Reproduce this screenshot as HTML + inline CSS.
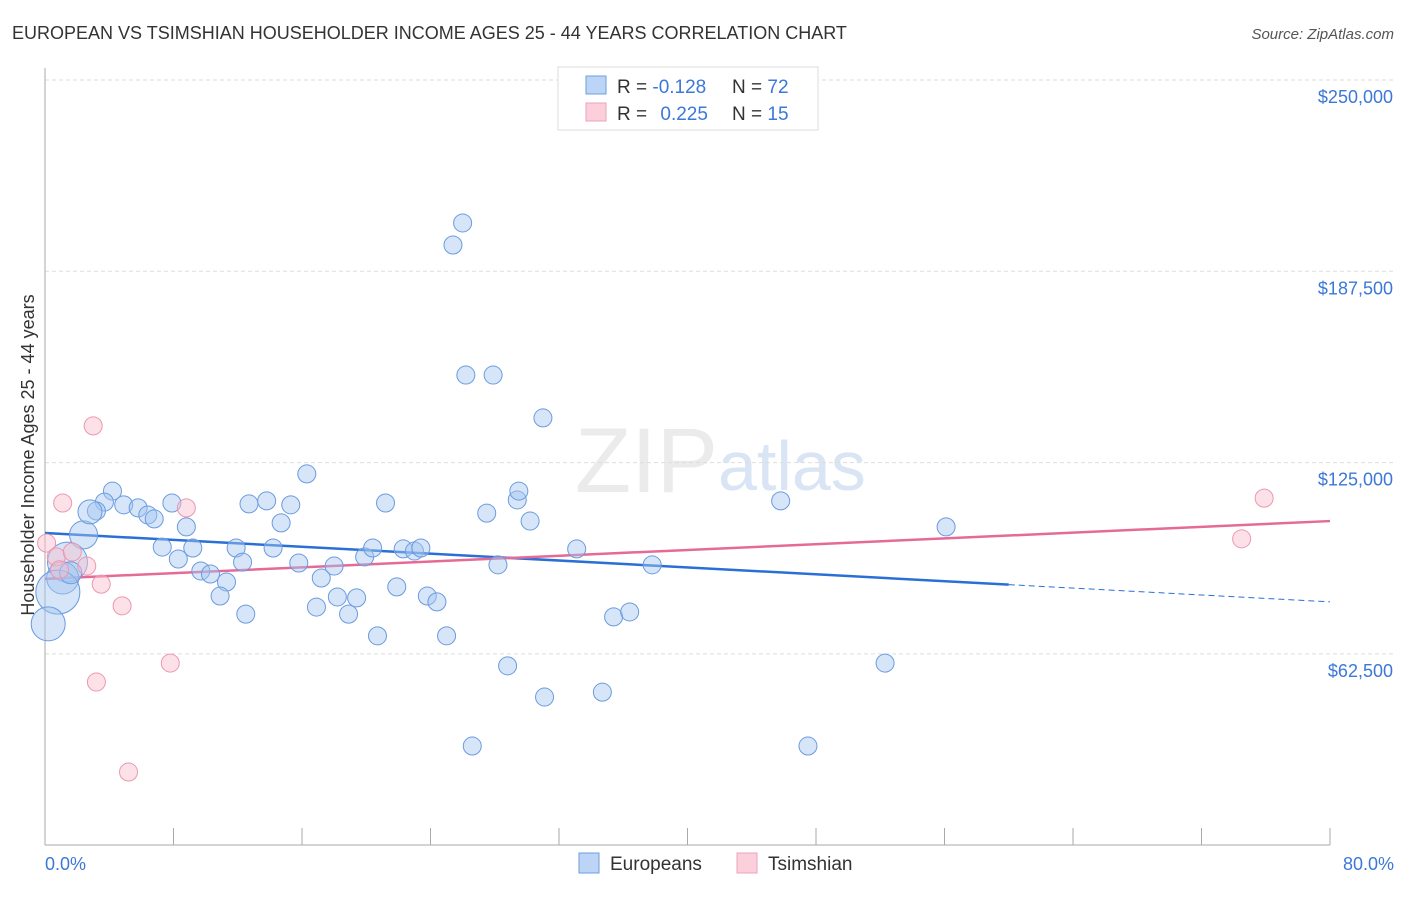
<!DOCTYPE html>
<html><head><meta charset="utf-8"><style>
body{margin:0;background:#fff;font-family:"Liberation Sans",sans-serif}
svg text{font-family:"Liberation Sans",sans-serif}
</style></head><body>
<svg id="chart" width="1406" height="892">
<text x="12" y="39" font-size="18" fill="#333">EUROPEAN VS TSIMSHIAN HOUSEHOLDER INCOME AGES 25 - 44 YEARS CORRELATION CHART</text>
<text x="1394" y="39" font-size="15" fill="#555" font-style="italic" text-anchor="end">Source: ZipAtlas.com</text>
<text x="718" y="492" font-size="92" fill="#ebebeb" font-family="Liberation Serif" text-anchor="end">ZIP</text>
<text x="718" y="490" font-size="70" fill="#d9e4f4">atlas</text>
<g id="grid"></g><g id="axes"></g><g id="lines"></g><g id="pts"></g>
<text transform="translate(34,455) rotate(-90)" font-size="18" fill="#333" text-anchor="middle">Householder Income Ages 25 - 44 years</text>
<text x="45" y="870" font-size="18" fill="#3b78d8">0.0%</text>
<text x="1394" y="870" font-size="18" fill="#3b78d8" text-anchor="end">80.0%</text>
<g>
<rect x="558" y="67" width="260" height="63" fill="#fff" stroke="#ddd"/>
<rect x="586" y="76" width="20" height="18" fill="#bcd4f5" stroke="#6d9ee0"/>
<rect x="586" y="103" width="20" height="18" fill="#fbd0dc" stroke="#eea2b8"/>
<text x="617" y="93" font-size="19" fill="#333">R = <tspan fill="#3b78d8">-0.128</tspan></text>
<text x="732" y="93" font-size="19" fill="#333">N = <tspan fill="#3b78d8">72</tspan></text>
<text x="617" y="120" font-size="19" fill="#333">R = <tspan fill="#3b78d8" dx="8">0.225</tspan></text>
<text x="732" y="120" font-size="19" fill="#333">N = <tspan fill="#3b78d8">15</tspan></text>
</g>
<g>
<rect x="579" y="853" width="20" height="20" fill="#bcd4f5" stroke="#6d9ee0"/>
<text x="610" y="870" font-size="19" fill="#333">Europeans</text>
<rect x="737" y="853" width="20" height="20" fill="#fbd0dc" stroke="#eea2b8"/>
<text x="768" y="870" font-size="19" fill="#333">Tsimshian</text>
</g>
</svg>
<script>
const yTicks=[62500,125000,187500,250000];
const yTickLabels=["$62,500","$125,000","$187,500","$250,000"];
const xTicks=[0,8,16,24,32,40,48,56,64,72,80];
const euroX=[26.0,25.4,26.2,27.9,31.0,16.3,4.2,3.7,3.2,4.9,5.8,6.4,6.8,7.9,8.8,7.3,9.2,8.3,9.7,10.3,11.3,10.9,11.9,12.3,12.7,13.8,14.7,15.3,14.2,15.8,12.5,16.9,17.2,18.0,18.2,18.9,19.4,19.9,20.4,20.7,21.2,21.9,22.3,23.0,23.4,23.8,24.4,25.0,27.5,28.2,29.4,29.5,30.2,28.8,31.1,26.6,33.1,34.7,35.4,36.4,37.8,45.8,47.5,52.3,56.1,2.4,1.4,1.1,0.8,0.2,2.8,1.6];
const euroY=[203300,196100,153600,153600,139600,121300,115700,112100,109200,111200,110200,107900,106600,111800,104000,97400,97100,93500,89600,88600,86000,81400,97100,92500,111500,112500,105300,111200,97100,92200,75500,77800,87300,91200,81100,75500,80800,94200,97100,68400,111800,84400,96800,96100,97100,81400,79500,68400,108500,91600,112800,115700,105900,58600,48400,32400,96800,50000,74600,76200,91600,112500,32400,59500,104000,101400,92500,87300,82700,72300,108900,89000];
const euroR=[9,9,9,9,9,9,9,9,9,9,9,9,9,9,9,9,9,9,9,9,9,9,9,9,9,9,9,9,9,9,9,9,9,9,9,9,9,9,9,9,9,9,9,9,9,9,9,9,9,9,9,9,9,9,9,9,9,9,9,9,9,9,9,9,9,14,20,16,22,17,12,11];
const tsimX=[3.0,1.1,0.1,0.7,1.7,2.6,3.5,4.8,8.8,7.8,3.2,5.2,75.9,74.5,0.9];
const tsimY=[137000,111800,98700,94200,95800,91200,85300,78200,110200,59500,53300,23900,113400,100100,90000];
const euroTrend=[102000,79500], tsimTrend=[87000,105900];
const NS="http://www.w3.org/2000/svg";
const X=p=>45+p/80*1285, Y=v=>80+(250000-v)/62500*191.3;
function mk(t,a,p){const e=document.createElementNS(NS,t);for(const k in a)e.setAttribute(k,a[k]);document.getElementById(p).appendChild(e);return e;}
yTicks.forEach((v,i)=>{
 const l=mk('line',{x1:45,x2:1394,y1:Y(v),y2:Y(v),stroke:'#ddd','stroke-dasharray':'4,3'},'grid');
 
 
 const t=mk('text',{x:1393,y:Y(v)+23,'text-anchor':'end','font-size':18,fill:'#3b78d8'},'grid');
 t.textContent=yTickLabels[i];
 
 
});
mk('line',{x1:45,x2:45,y1:68,y2:845,stroke:'#aaa'},'axes');
mk('line',{x1:45,x2:1330,y1:845,y2:845,stroke:'#aaa'},'axes');
xTicks.forEach(p=>{const t=mk('line',{x1:X(p),x2:X(p),y1:828,y2:845,stroke:'#aaa'},'axes');
 
 });
euroX.forEach((p,i)=>{const c=mk('circle',{cx:X(p),cy:Y(euroY[i]),r:euroR[i],fill:'rgba(165,198,240,0.45)',stroke:'#6b9be0','stroke-width':1},'pts');
 
 });
tsimX.forEach((p,i)=>{const c=mk('circle',{cx:X(p),cy:Y(tsimY[i]),r:9,fill:'rgba(248,190,205,0.45)',stroke:'#ec97b0','stroke-width':1},'pts');
 
 });
const eAt=p=>euroTrend[0]+(euroTrend[1]-euroTrend[0])*p/80;
const l1=mk('line',{x1:X(0),y1:Y(eAt(0)),x2:X(60),y2:Y(eAt(60)),stroke:'#2a6fd6','stroke-width':2.5},'lines');


const l2=mk('line',{x1:X(60),y1:Y(eAt(60)),x2:X(80),y2:Y(eAt(80)),stroke:'#2a6fd6','stroke-width':1,'stroke-dasharray':'6,4'},'lines');


const l3=mk('line',{x1:X(0),y1:Y(tsimTrend[0]),x2:X(80),y2:Y(tsimTrend[1]),stroke:'#e56a96','stroke-width':2.5},'lines');


</script>
</body></html>
